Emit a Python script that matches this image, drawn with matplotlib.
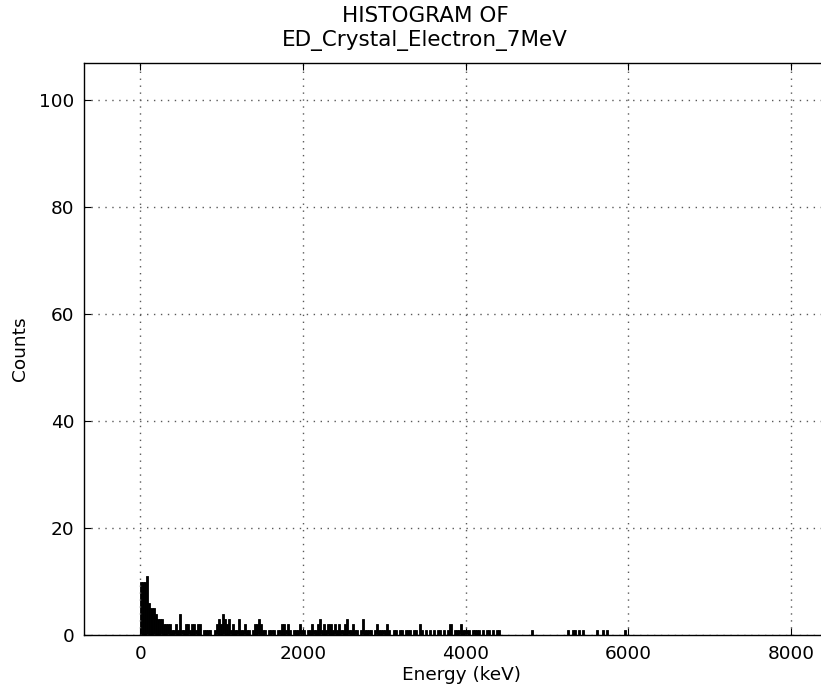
import numpy as np
import matplotlib
matplotlib.use("Agg")
import matplotlib.pyplot as plt

# counts per 25 keV bin, starting at 0 keV
bin_width = 25
counts = [
    10, 10, 10, 11, 6, 5, 5, 4, 3, 3, 3, 2, 2, 2, 2, 1, 1, 2, 1, 4,
    1, 1, 2, 2, 1, 2, 2, 1, 2, 2, 0, 1, 1, 1, 1, 0, 1, 2, 3, 2,
    4, 3, 2, 3, 1, 2, 1, 1, 3, 1, 1, 2, 1, 1, 0, 1, 2, 2, 3, 2,
    1, 1, 0, 1, 1, 1, 0, 1, 1, 2, 2, 1, 2, 1, 0, 1, 1, 1, 2, 1,
    1, 0, 1, 1, 2, 1, 1, 2, 3, 1, 2, 1, 2, 2, 1, 2, 1, 2, 1, 1,
    2, 3, 1, 1, 2, 1, 1, 0, 1, 3, 1, 1, 1, 1, 0, 1, 2, 1, 1, 1,
    1, 2, 1, 0, 1, 1, 0, 1, 1, 0, 1, 1, 1, 0, 1, 1, 0, 2, 1, 0,
    1, 0, 1, 0, 1, 0, 1, 1, 0, 1, 0, 1, 2, 0, 1, 1, 1, 2, 1, 1,
    1, 1, 0, 1, 1, 1, 1, 0, 1, 0, 1, 1, 0, 1, 0, 1, 1, 0, 0, 0,
]

# isolated events in the high-energy tail (keV) and their counts
tail_energy = [4810, 5260, 5310, 5335, 5385, 5435, 5610, 5685, 5735, 5960]
tail_counts = [1, 1, 1, 1, 1, 1, 1, 1, 1, 1]

centers = np.arange(len(counts)) * bin_width + bin_width / 2.0
energies = np.concatenate([centers, tail_energy])
weights = np.concatenate([counts, tail_counts])
edges = np.arange(0, 6000 + bin_width, bin_width)

fig = plt.figure(figsize=(8.21, 6.93), dpi=100)
ax = fig.add_axes([84 / 821., 1 - 635 / 693., (838 - 84) / 821., (635 - 63) / 693.])

ax.hist(energies, bins=edges, weights=weights, facecolor='k', edgecolor='k', linewidth=0.6)

ax.set_xlim(-692, 8575)
ax.set_ylim(0, 107)
ax.set_xticks([0, 2000, 4000, 6000, 8000])
ax.set_yticks([0, 20, 40, 60, 80, 100])
ax.grid(True, color='0.35', linestyle=(0, (1, 4)), linewidth=1.0)
ax.tick_params(direction='in', top=True, right=True, length=5, labelsize=13.3, pad=7)
for s in ax.spines.values():
    s.set_linewidth(1.0)

ax.set_xlabel('Energy (keV)', fontsize=13.3, labelpad=2)
ax.set_ylabel('Counts', fontsize=13.3, labelpad=7)
ax.set_title('HISTOGRAM OF\nED_Crystal_Electron_7MeV', fontsize=15.5,
             x=(425 - 84) / (838 - 84.), pad=12, linespacing=1.3)

fig.savefig('out.png', dpi=100)
